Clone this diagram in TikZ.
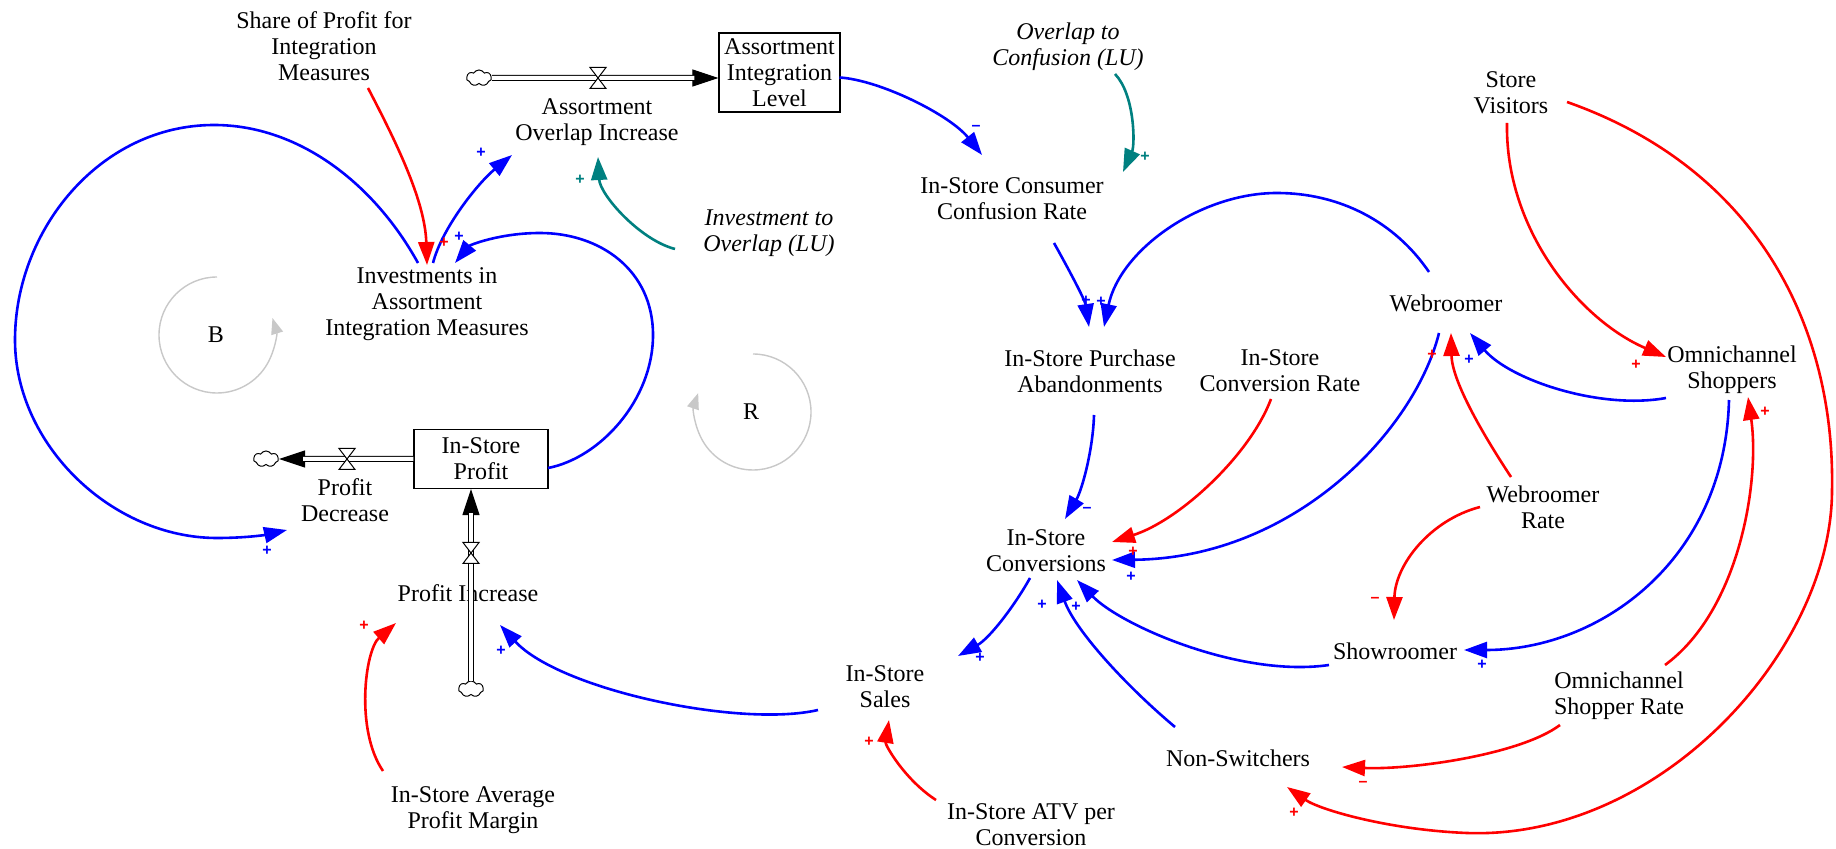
\documentclass[tikz,border=0pt]{standalone}
\usepackage{fontspec}
\setmainfont{Liberation Serif}
\newfontfamily\signfont{Liberation Sans}
\usetikzlibrary{arrows.meta,calc,shapes.symbols}

\definecolor{linkblue}{RGB}{0,0,255}
\definecolor{linkred}{RGB}{255,0,0}
\definecolor{linkteal}{RGB}{0,128,128}
\definecolor{loopgray}{RGB}{200,200,200}

\begin{document}
\begin{tikzpicture}[x=0.5pt,y=-0.5pt,
  var/.style={align=center,font=\fontsize{12}{13}\selectfont,inner sep=1pt},
  lu/.style={align=center,font=\fontsize{12}{13}\selectfont\itshape,inner sep=1pt},
  stock/.style={draw=black,line width=0.6pt,align=center,font=\fontsize{12}{13}\selectfont,inner sep=0pt},
  cloudnode/.style={cloud,draw=black,line width=0.5pt,fill=white,cloud puffs=7,cloud puff arc=120,aspect=1.5,inner sep=0pt,minimum width=12.5pt,minimum height=8pt},
  pipe/.style={draw=black,double=white,double distance=2pt,line width=0.5pt},
  pipehead/.style={draw=black,line width=0.5pt,-{Triangle[length=13pt,width=8.5pt]}},
  link/.style={line width=1.3pt,-{Triangle[length=11.5pt,width=8pt]}},
  bl/.style={link,draw=linkblue},
  rd/.style={link,draw=linkred},
  tl/.style={link,draw=linkteal},
  loopmark/.style={draw=loopgray,line width=0.7pt,-{Triangle[length=8pt,width=6pt]}},
  sgn/.style={font=\signfont\bfseries\fontsize{8}{8}\selectfont,inner sep=0pt},
  valve/.pic={\draw[line width=0.5pt,fill=white] (-8,-10.5) -- (8,-10.5) -- (-8,10.5) -- (8,10.5) -- cycle;}
]
\fill[white] (0,0) rectangle (1836,849);
\useasboundingbox (0,0) rectangle (1836,849);

% ---- variables ----
\node[var] (share) at (324,46) {Share of Profit for\\Integration\\Measures};
\node[var] (inv) at (427,304) {Investments in\\Assortment\\Integration Measures};
\node[var] (aoi) at (597,122) {Assortment\\Overlap Increase};
\node[lu]  (ito) at (769,233) {Investment to\\Overlap (LU)};
\node[stock,minimum width=60.5pt,minimum height=39.5pt] (ail) at (779.5,72.5) {Assortment\\Integration\\Level};
\node[lu]  (otc) at (1068,47) {Overlap to\\Confusion (LU)};
\node[var] (conf) at (1012,199) {In-Store Consumer\\Confusion Rate};
\node[var] (sv) at (1511,93) {Store\\Visitors};
\node[var] (web) at (1446,303) {Webroomer};
\node[var] (abd) at (1090,371) {In-Store Purchase\\Abandonments};
\node[var] (icr) at (1280,371) {In-Store\\Conversion Rate};
\node[var] (omni) at (1732,370) {Omnichannel\\Shoppers};
\node[var] (wr) at (1543,507) {Webroomer\\Rate};
\node[var] (conv) at (1046,551) {In-Store\\Conversions};
\node[var] (show) at (1395,651) {Showroomer};
\node[var] (osr) at (1619,696) {Omnichannel\\Shopper Rate};
\node[var] (ns) at (1238,758) {Non-Switchers};
\node[var] (atv) at (1031,825) {In-Store ATV per\\Conversion};
\node[var] (sales) at (885,687) {In-Store\\Sales};
\node[var] (apm) at (473,810) {In-Store Average\\Profit Margin};
\node[var] (pinc) at (468,593) {Profit Increase};
\node[var] (pdec) at (345,500) {Profit\\Decrease};
\node[stock,minimum width=67pt,minimum height=29.5pt] (profit) at (481,459) {In-Store\\Profit};
\node[var] (loopB) at (216,335) {B};
\node[var] (loopR) at (751,412) {R};

% ---- clouds ----
\node[cloudnode] (cloudA) at (479,78) {};
\node[cloudnode] (cloudB) at (266,459) {};
\node[cloudnode] (cloudC) at (471,689) {};

% ---- flows (pipes, arrowheads, valves) ----
\draw[pipehead] (cloudA) -- (cloudA -| ail.west);
\draw[pipe,shorten >=12pt] (cloudA) -- (cloudA -| ail.west);
\draw[pipehead] (profit.west) -- (cloudB);
\draw[pipe,shorten >=12pt] (profit.west) -- (cloudB);
\draw[pipehead] (cloudC) -- (cloudC |- profit.south);
\draw[pipe,shorten >=12pt] (cloudC) -- (cloudC |- profit.south);
\pic at (598,78) {valve};
\pic at (347,459) {valve};
\pic at (471,553) {valve};

% ---- loop markers ----
\draw[loopmark] ($(loopB)+(1,-58)$) arc[start angle=-90,end angle=-377,radius=58];
\draw[loopmark] ($(loopR)+(2,-58)$) arc[start angle=-90,end angle=199,radius=58];

% ---- causal links ----
\draw[rd] ($(share)+(44,42)$) .. controls (395,140) and (425,200) .. ($(inv)+(0,-39)$);
\draw[bl] ($(inv)+(6,-41)$) .. controls (442,228) and (478,183) .. ($(aoi)+(-85,33)$);
\draw[bl] ($(profit)+(67,9)$) .. controls (600,458) and (653,400) .. (653,335)
          .. controls (653,270) and (600,233) .. (540,233)
          .. controls (500,233) and (470,245) .. ($(inv)+(28,-41)$);
\draw[bl] ($(inv)+(-9,-41)$) .. controls (375,185) and (300,125) .. (214,125)
          .. controls (100,125) and (15,230) .. (15,340)
          .. controls (15,445) and (112,538) .. (217,538)
          .. controls (245,538) and (265,535) .. ($(pdec)+(-58,30)$);
\draw[tl] ($(ito)+(-94,16)$) .. controls (640,240) and (600,195) .. ($(aoi)+(1,35)$);
\draw[bl] ($(ail)+(60,5)$) .. controls (880,80) and (950,115) .. ($(conf)+(-30,-44)$);
\draw[tl] ($(otc)+(47,27)$) .. controls (1135,95) and (1135,145) .. ($(conf)+(111,-27)$);
\draw[bl] ($(conf)+(42,44)$) .. controls (1068,268) and (1085,300) .. ($(abd)+(-1,-44)$);
\draw[bl] ($(web)+(-17,-31)$) .. controls (1395,222) and (1340,193) .. (1277,193)
          .. controls (1200,193) and (1120,250) .. ($(abd)+(14,-44)$);
\draw[bl] ($(abd)+(4,44)$) .. controls (1093,450) and (1082,490) .. ($(conv)+(19,-32)$);
\draw[rd] ($(icr)+(-9,28)$) .. controls (1250,455) and (1180,520) .. ($(conv)+(66,-9)$);
\draw[bl] ($(web)+(-7,30)$) .. controls (1415,430) and (1295,558) .. ($(conv)+(66,9)$);
\draw[bl] ($(conv)+(-16,27)$) .. controls (1015,605) and (990,638) .. ($(sales)+(73,-31)$);
\draw[bl] ($(ns)+(-63,-31)$) .. controls (1125,685) and (1075,630) .. ($(conv)+(11,29)$);
\draw[bl] ($(show)+(-66,14)$) .. controls (1240,678) and (1120,625) .. ($(conv)+(31,29)$);
\draw[bl] ($(sales)+(-67,23)$) .. controls (740,728) and (560,690) .. ($(pinc)+(32,32)$);
\draw[rd] ($(apm)+(-90,-39)$) .. controls (355,730) and (365,650) .. ($(pinc)+(-72,30)$);
\draw[rd] ($(atv)+(-95,-25)$) .. controls (905,780) and (885,745) .. ($(sales)+(4,33)$);
\draw[rd] ($(sv)+(-4,30)$) .. controls (1505,230) and (1580,320) .. ($(omni)+(-66,-13)$);
\draw[rd] ($(sv)+(56,9)$) .. controls (1760,170) and (1835,330) .. (1832,490)
          .. controls (1832,650) and (1660,840) .. (1467,833)
          .. controls (1390,830) and (1320,810) .. ($(ns)+(49,29)$);
\draw[rd] ($(osr)+(46,-31)$) .. controls (1740,610) and (1760,480) .. ($(omni)+(16,27)$);
\draw[rd] ($(osr)+(-59,29)$) .. controls (1520,755) and (1410,770) .. ($(ns)+(104,9)$);
\draw[bl] ($(omni)+(-66,28)$) .. controls (1600,410) and (1510,380) .. ($(web)+(24,30)$);
\draw[rd] ($(wr)+(-32,-30)$) .. controls (1480,430) and (1452,380) .. ($(web)+(5,30)$);
\draw[bl] ($(omni)+(-3,30)$) .. controls (1725,560) and (1600,650) .. ($(show)+(69,-1)$);
\draw[rd] ($(wr)+(-63,0)$) .. controls (1430,520) and (1395,565) .. ($(show)+(-1,-31)$);

% ---- link polarities ----
\foreach \p/\q in {481/153,459/237,267/551,1086/301,1101/302,1131/577,980/658,1042/605,1076/607,501/651,1469/360,1482/665}
  \node[sgn,text=linkblue] at (\p,\q) {+};
\foreach \p/\q in {976/128,1087/510}
  \node[sgn,text=linkblue] at (\p,\q) {–};
\foreach \p/\q in {444/243,1133/552,364/626,869/742,1636/365,1432/355,1765/412,1294/813}
  \node[sgn,text=linkred] at (\p,\q) {+};
\foreach \p/\q in {1375/600,1363/784}
  \node[sgn,text=linkred] at (\p,\q) {–};
\foreach \p/\q in {580/180,1145/157}
  \node[sgn,text=linkteal] at (\p,\q) {+};
\end{tikzpicture}
\end{document}
